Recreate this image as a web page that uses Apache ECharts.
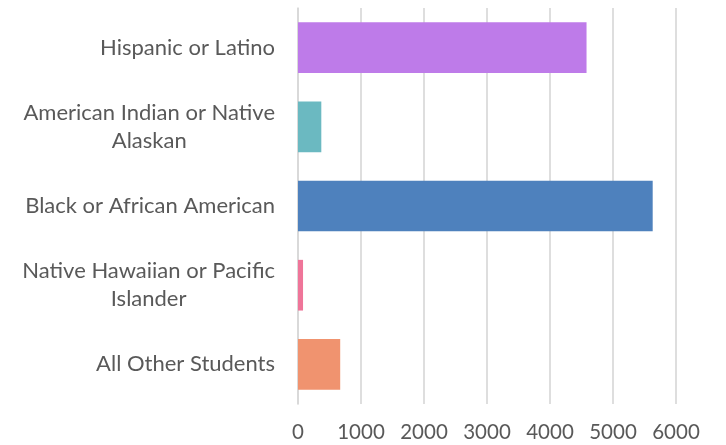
<!DOCTYPE html>
<html>
<head>
<meta charset="utf-8">
<script src="https://cdn.jsdelivr.net/npm/echarts@6/dist/echarts.min.js"></script>
<style>html,body{margin:0;padding:0;background:#fff;}#c{width:726px;height:445px;}</style>
</head>
<body>
<div id="c"></div>
<script>
const categories = [
  "Hispanic or Latino",
  "American Indian or Native\nAlaskan",
  "Black or African American",
  "Native Hawaiian or Pacific\nIslander",
  "All Other Students"
];
const values = [4580, 370, 5630, 80, 670];
const barColors = ["#BE7BE9", "#6BB9C1", "#4E81BD", "#EF7599", "#F0936F"];
const xTicks = [0, 1000, 2000, 3000, 4000, 5000, 6000];

const chart = echarts.init(document.getElementById('c'), null, {renderer: 'canvas'});
const FONT = 'Lato';
chart.setOption({
  animation: false,
  backgroundColor: '#ffffff',
  grid: {left: 298, right: 50, top: 8, bottom: 41, containLabel: false},
  xAxis: {
    type: 'value',
    min: xTicks[0],
    max: xTicks[xTicks.length - 1],
    interval: 1000,
    axisLine: {show: false},
    axisTick: {show: false},
    splitLine: {show: true, lineStyle: {color: '#D9D9D9', width: 1.7}},
    axisLabel: {color: '#595959', fontFamily: FONT, fontSize: 20.5, margin: 18,
      formatter: v => String(v)}
  },
  yAxis: {
    type: 'category',
    data: categories,
    inverse: true,
    axisLine: {show: true, lineStyle: {color: '#D9D9D9', width: 1.7}},
    axisTick: {show: false},
    axisLabel: {
      color: '#595959', fontFamily: FONT, fontSize: 22, margin: 23, lineHeight: 28, align: 'right',
      formatter: v => v.split('\n').map(l => '{a|' + l + '}').join('\n'),
      rich: {a: {align: 'center', color: '#595959', fontFamily: FONT, fontSize: 22, lineHeight: 28}}
    }
  },
  series: [{
    type: 'bar',
    data: values.map((v, i) => ({value: v, itemStyle: {color: barColors[i]}})),
    barCategoryGap: '36%'
  }]
});
</script>
</body>
</html>
